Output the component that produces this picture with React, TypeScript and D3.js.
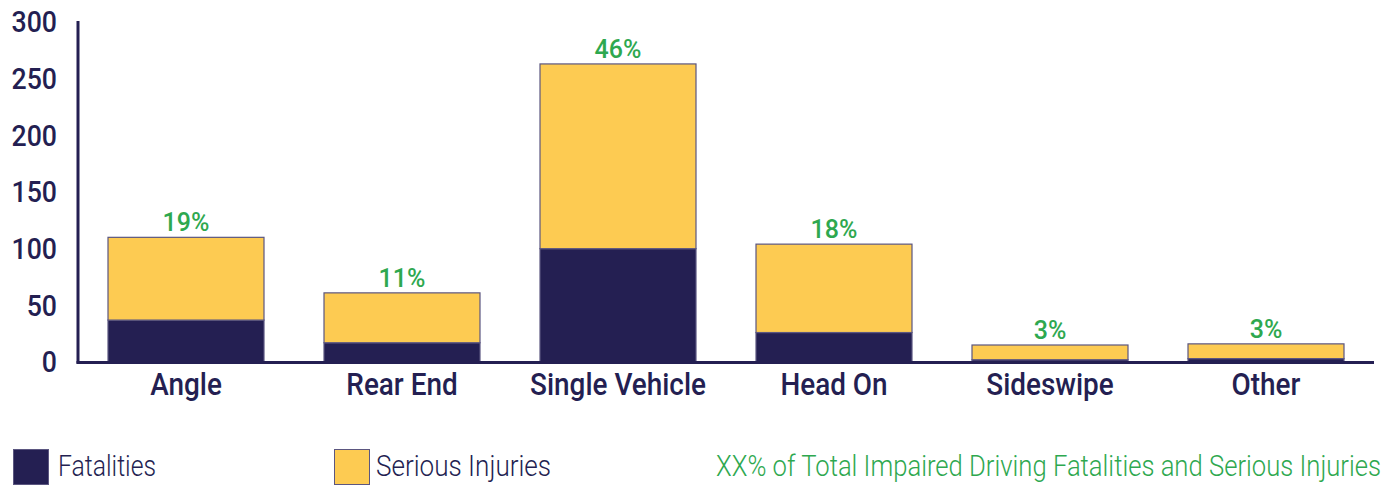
import React, { useLayoutEffect, useRef, useState } from "react";
import * as d3 from "d3";

const categories = ["Angle", "Rear End", "Single Vehicle", "Head On", "Sideswipe", "Other"];
const fatalities = [37, 17, 100, 26, 2, 3];
const seriousInjuries = [73, 44, 163, 78, 13, 13];
const percentLabels = ["19%", "11%", "46%", "18%", "3%", "3%"];
const yTicks = [0, 50, 100, 150, 200, 250, 300];
const legendItems = ["Fatalities", "Serious Injuries"];
const noteText = "XX% of Total Impaired Driving Fatalities and Serious Injuries";

const W = 1396;
const H = 486;
const NAVY = "#241f52";
const YELLOW = "#fdcb52";
const GREEN = "#2ea84f";
const FONT = "Roboto, 'Open Sans', sans-serif";

function FitText({ x, y, width, fill, children }: { x: number; y: number; width: number; fill: string; children: string }) {
  const ref = useRef<SVGTextElement>(null);
  const [sx, setSx] = useState(0.86);
  useLayoutEffect(() => {
    if (ref.current) {
      const w = ref.current.getComputedTextLength();
      if (w > 0) setSx(width / w);
    }
  }, [width, children]);
  return (
    <text
      ref={ref}
      transform={`translate(${x},${y}) scale(${sx},1)`}
      fontSize={29}
      fontWeight={300}
      fill={fill}
    >
      {children}
    </text>
  );
}

export default function App() {
  const x = d3
    .scaleBand<string>()
    .domain(categories)
    .range([78, 1374])
    .paddingInner(60 / 216)
    .paddingOuter(30 / 216);
  const y = d3.scaleLinear().domain([0, 300]).range([362, 22]);

  const rows = categories.map((c, i) => ({
    cat: c,
    fatal: fatalities[i],
    serious: seriousInjuries[i],
    pct: percentLabels[i],
  }));
  const stack = d3.stack<any>().keys(["fatal", "serious"])(rows as any);
  const colors = [NAVY, YELLOW];

  return (
    <svg
      width={W}
      height={H}
      style={{ position: "absolute", left: 0, top: 0, background: "#fff" }}
      fontFamily={FONT}
    >
      {stack.map((layer, li) => (
        <g key={li}>
          {layer.map((d: any, i: number) => (
            <rect
              key={i}
              x={x(categories[i])}
              width={x.bandwidth()}
              y={y(d[1])}
              height={Math.max(0, y(d[0]) - y(d[1]))}
              fill={colors[li]}
              stroke="#5b5680"
              strokeWidth={1.2}
            />
          ))}
        </g>
      ))}
      {/* axes */}
      <line x1={78} x2={78} y1={21} y2={363.5} stroke={NAVY} strokeWidth={3} />
      <line x1={76.5} x2={1374} y1={362.5} y2={362.5} stroke={NAVY} strokeWidth={3} />
      {yTicks.map((t) => (
        <text
          key={t}
          transform={`translate(57,${y(t)}) scale(0.92,1)`}
          dy="0.36em"
          textAnchor="end"
          fontSize={29}
          fontWeight={500}
          fill={NAVY}
        >
          {t}
        </text>
      ))}
      {rows.map((r) => (
        <text
          key={r.cat}
          transform={`translate(${(x(r.cat) as number) + x.bandwidth() / 2},395) scale(0.9,1)`}
          textAnchor="middle"
          fontSize={31}
          fontWeight={500}
          fill={NAVY}
        >
          {r.cat}
        </text>
      ))}
      {rows.map((r) => (
        <text
          key={r.cat + "p"}
          x={(x(r.cat) as number) + x.bandwidth() / 2}
          y={y(r.fatal + r.serious) - 6}
          textAnchor="middle"
          fontSize={25}
          fontWeight={500}
          fill={GREEN}
        >
          {r.pct}
        </text>
      ))}
      {/* legend */}
      <rect x={13.5} y={449.5} width={35} height={35} fill={NAVY} stroke="#5b5680" strokeWidth={1} />
      <FitText x={58} y={476} width={98} fill={NAVY}>{legendItems[0]}</FitText>
      <rect x={334.5} y={449.5} width={35} height={35} fill={YELLOW} stroke="#5b5680" strokeWidth={1} />
      <FitText x={376} y={476} width={175} fill={NAVY}>{legendItems[1]}</FitText>
      <FitText x={716} y={476} width={665} fill={GREEN}>{noteText}</FitText>
    </svg>
  );
}
